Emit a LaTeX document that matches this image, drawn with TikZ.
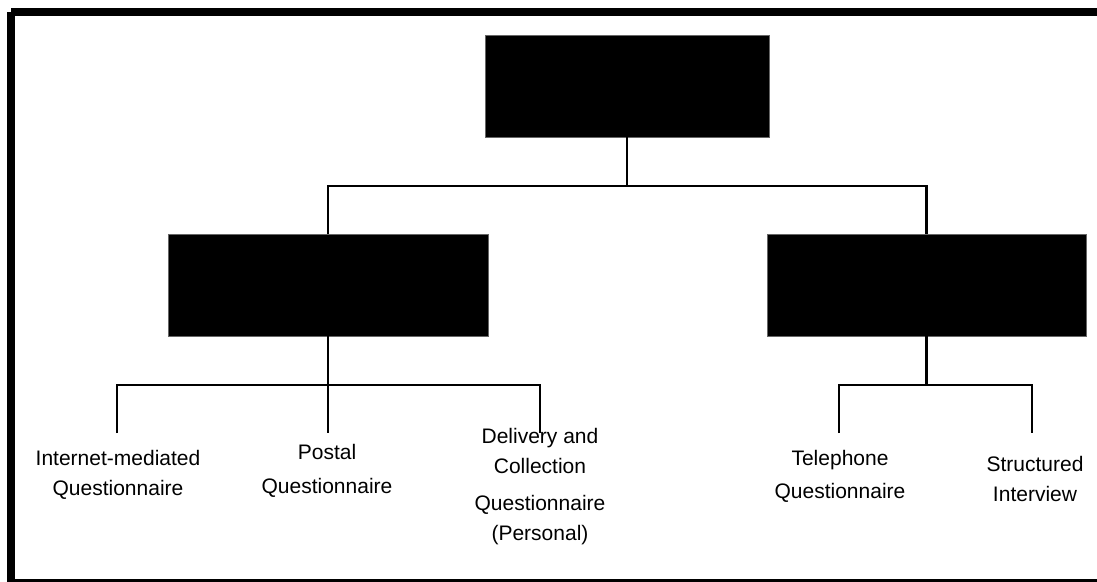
\documentclass[tikz,border=0pt]{standalone}
\usepackage{fontspec}
\setmainfont{Liberation Sans}
\begin{document}
\begin{tikzpicture}[x=0.75pt,y=-0.75pt,
  blk/.style={rectangle,fill=black,draw=black!60,line width=0.4pt,inner sep=0pt,minimum height=76.5pt},
  conn/.style={line width=1.9pt,line cap=butt},
  lbl/.style={font=\fontsize{15.75}{22.5}\selectfont,align=center,inner sep=0pt,anchor=north}]
\useasboundingbox (0,0) rectangle (1097,582);
% frame
\fill (11,8) rectangle (1097,16);
\fill (7,12) rectangle (15,582);
\fill (7,579) rectangle (1097,582);
% boxes
\node[blk,minimum width=213pt] (T) at (627,86) {};
\node[blk,minimum width=240pt] (L) at (328,285) {};
\node[blk,minimum width=239.25pt] (R) at (926.5,285) {};
% labels
\node[lbl] (im) at (118,450) {Internet-mediated\\Questionnaire};
\node[lbl] (pq) at (327,444) {Postal\\[3pt]Questionnaire};
\node[lbl] (dc) at (540,428) {Delivery and\\Collection\\[5.5pt]Questionnaire\\(Personal)};
\node[lbl] (tq) at (840,450) {Telephone\\[2.5pt]Questionnaire};
\node[lbl] (si) at (1035,456) {Structured\\Interview};
% junctions
\coordinate (j1) at (627,186);
\coordinate (j2) at (328,385);
\coordinate (j3) at (926.5,385);
\coordinate (e1) at (117,433);
\coordinate (e2) at (328,433);
\coordinate (e3) at (540,433);
\coordinate (e4) at (839,433);
\coordinate (e5) at (1032,433);
% connectors
\draw[conn] (T.south) -- (j1);
\draw[conn] (L.north) -- (L.north |- j1) -- (R.north |- j1) -- (R.north);
\draw[conn] (L.south) -- (e2);
\draw[conn] (e1) -- (e1 |- j2) -- (e3 |- j2) -- (e3);
\draw[conn] (R.south) -- (j3);
\draw[conn] (e4) -- (e4 |- j3) -- (e5 |- j3) -- (e5);
\end{tikzpicture}
\end{document}
